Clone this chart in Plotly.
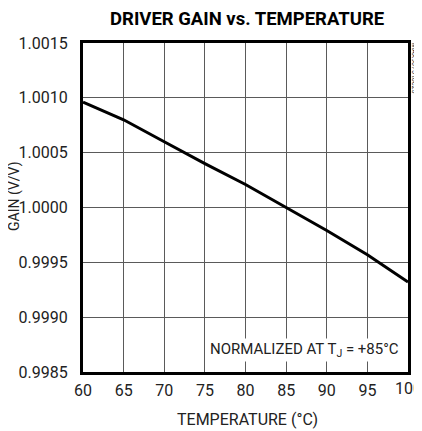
import plotly.graph_objects as go

# Datos
temperatura = [60, 65, 70, 75, 80, 85, 90, 95, 100]
ganancia = [1.00096, 1.00080, 1.00060, 1.00040, 1.00021, 1.00000, 0.99979, 0.99957, 0.99932]

x_ticks = [60, 65, 70, 75, 80, 85, 90, 95]
x_ultimo = 100
y_ticks = [0.9985, 0.9990, 0.9995, 1.0000, 1.0005, 1.0010, 1.0015]
y_labels = ["0.9985", "0.9990", "0.9995", "1.0000", "1.0005", "1.0010", "1.0015"]

fuente = "Roboto, Liberation Sans, sans-serif"

fig = go.Figure()

fig.add_trace(go.Scatter(
    x=temperatura,
    y=ganancia,
    mode='lines',
    line=dict(color='black', width=3),
    showlegend=False
))

# La pagina tiene 8px de margen en el body, se descuenta del tamaño
fig.update_layout(
    width=414,
    height=423,
    margin=dict(l=75, r=14, t=35, b=59),
    paper_bgcolor='white',
    plot_bgcolor='white',
    font=dict(family=fuente, size=16, color='#222'),
    title=dict(
        text="<b>DRIVER GAIN vs. TEMPERATURE</b>",
        xref='paper', x=0.505, xanchor='center',
        yref='container', y=0.976, yanchor='middle',
        font=dict(family=fuente, size=18.5, color='black')
    ),
    xaxis=dict(
        range=[60, 100],
        tickvals=x_ticks,
        ticks='',
        showgrid=True,
        gridcolor='#5a5a5a',
        gridwidth=1,
        showline=True,
        linecolor='black',
        linewidth=3,
        mirror=True,
        zeroline=False,
        automargin=False,
        ticklabelstandoff=2,
        tickfont=dict(size=16)
    ),
    yaxis=dict(
        range=[0.9985, 1.0015],
        tickvals=y_ticks,
        ticktext=y_labels,
        ticks='',
        showgrid=True,
        gridcolor='#5a5a5a',
        gridwidth=1,
        showline=True,
        linecolor='black',
        linewidth=3,
        mirror=True,
        zeroline=False,
        automargin=False,
        ticklabelstandoff=9,
        tickfont=dict(size=16)
    )
)

# Ultima etiqueta del eje x (pegada al borde)
fig.add_annotation(
    x=x_ultimo, y=0, xref='x', yref='paper',
    xanchor='center', yanchor='top', yshift=-5,
    text=str(x_ultimo),
    showarrow=False,
    font=dict(size=16, color='#222')
)

# Titulos de ejes como anotaciones
fig.add_annotation(
    x=0.505, y=0, xref='paper', yref='paper',
    xanchor='center', yanchor='middle', yshift=-47,
    text="TEMPERATURE (°C)",
    showarrow=False,
    font=dict(size=16, color='#222')
)
fig.add_annotation(
    x=0, y=0.532, xref='paper', yref='paper',
    xanchor='center', yanchor='middle', xshift=-68,
    text="GAIN (V/V)",
    textangle=-90,
    showarrow=False,
    font=dict(size=14, color='#222')
)

# Nota de normalizacion
fig.add_annotation(
    x=0.978, y=0.067, xref='paper', yref='paper',
    xanchor='right', yanchor='middle',
    text="NORMALIZED AT T<sub>J</sub> = +85°C",
    showarrow=False,
    bgcolor='white',
    font=dict(size=15, color='#222')
)

# Codigo de figura vertical
fig.add_annotation(
    x=1.0, y=0.924, xref='paper', yref='paper',
    xanchor='center', yanchor='middle', xshift=6,
    text="MAX9075 toc25",
    textangle=90,
    showarrow=False,
    font=dict(size=7, color='#333')
)

fig.write_html("out.html")
